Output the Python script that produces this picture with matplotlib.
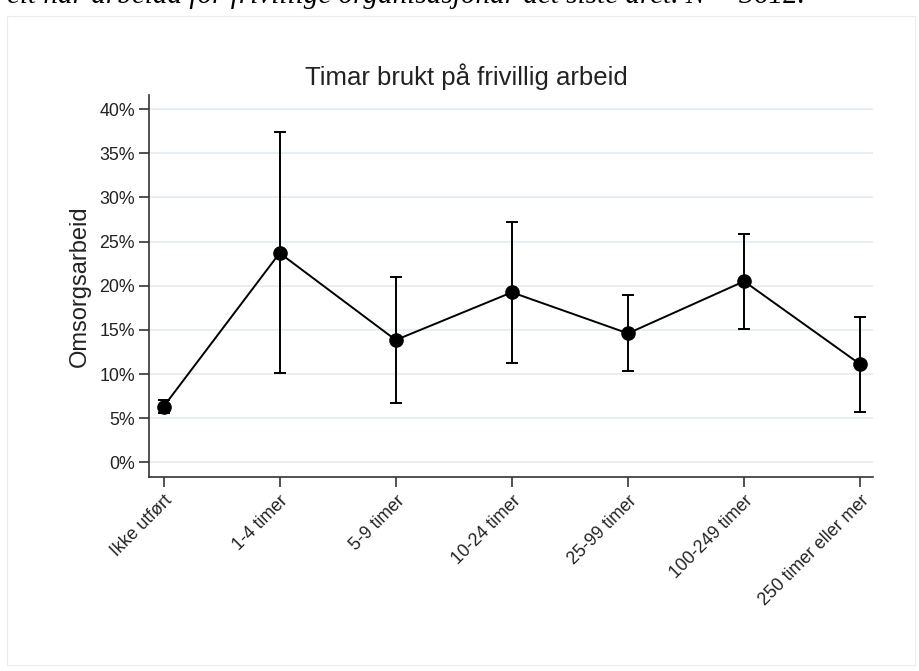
import matplotlib
matplotlib.use('Agg')
import matplotlib.pyplot as plt
import matplotlib.patches as patches
from matplotlib.ticker import FuncFormatter

categories = ['Ikke utført', '1-4 timer', '5-9 timer', '10-24 timer',
              '25-99 timer', '100-249 timer', '250 timer eller mer']
share = [6.3, 23.7, 13.85, 19.25, 14.6, 20.5, 11.1]
ci_low = [5.55, 10.1, 6.75, 11.3, 10.35, 15.1, 5.7]
ci_high = [7.05, 37.4, 20.95, 27.2, 18.9, 25.9, 16.5]
yticks = [0, 5, 10, 15, 20, 25, 30, 35, 40]

plt.rcParams['font.family'] = ['Liberation Sans', 'DejaVu Sans']

fig = plt.figure(figsize=(9.2, 6.71), dpi=100)
fig.patch.set_facecolor('white')

# faint frame of the graph region
fig.patches.append(patches.Rectangle((7/920, 6/671), 908/920, 649/671,
                                     transform=fig.transFigure, fill=False,
                                     edgecolor='#ececec', linewidth=0.8))

# cut-off caption at the very top
fig.text(805/920, 1 - 3/671, 'eit har arbeidd for frivillige organisasjonar det siste året. N = 3612.',
         ha='right', va='baseline', fontsize=21, style='italic',
         family=['Liberation Serif', 'DejaVu Serif'], color='black')

ax = fig.add_axes([149/920, 1 - 476.7/671, (873-149)/920, (476.7-95)/671])

x = list(range(len(categories)))
yerr = [[s - lo for s, lo in zip(share, ci_low)], [hi - s for s, hi in zip(share, ci_high)]]
ax.errorbar(x, share, yerr=yerr, fmt='o-', color='black', ecolor='black',
            markersize=9.5, linewidth=1.4, elinewidth=1.4, capsize=4, capthick=1.4, zorder=3)

ax.set_xlim(-0.125, 6.11)
ax.set_ylim(-1.63, 41.6)
ax.set_yticks(yticks)
ax.yaxis.set_major_formatter(FuncFormatter(lambda v, p: f'{v:.0f}%'))
ax.set_xticks(x)
ax.set_xticklabels(categories, rotation=45, ha='right', rotation_mode='anchor')
ax.grid(axis='y', color='#e6eff2', linewidth=1.4, zorder=0)
ax.set_axisbelow(True)

for s in ['top', 'right']:
    ax.spines[s].set_visible(False)
for s in ['left', 'bottom']:
    ax.spines[s].set_color('#333333')
    ax.spines[s].set_linewidth(1.2)
ax.tick_params(axis='both', colors='#333333', length=7, width=1.2, labelsize=12.8,
               labelcolor='#222222')
ax.tick_params(axis='x', pad=4)
ax.tick_params(axis='y', pad=3)

ax.set_ylabel('Omsorgsarbeid', fontsize=17, color='#222222', labelpad=6)
fig.text(466/920, 1 - 77/671, 'Timar brukt på frivillig arbeid', ha='center', va='center',
         fontsize=18.5, color='#222222')

fig.savefig('out.png', dpi=100)
